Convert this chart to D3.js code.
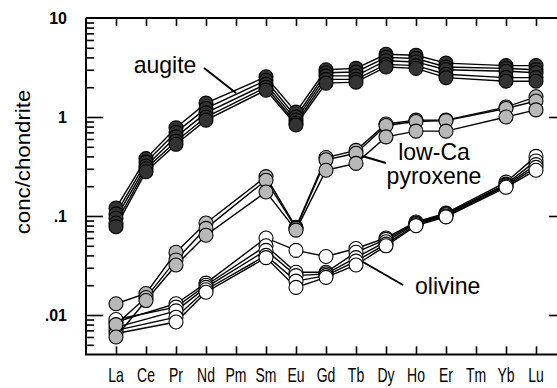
<!DOCTYPE html>
<html>
<head>
<meta charset="utf-8">
<script src="https://cdn.jsdelivr.net/npm/d3@7"></script>
<style>
  html, body { margin: 0; padding: 0; background: #fff; }
  svg { display: block; }
  text { font-family: "Liberation Sans", Arial, Helvetica, sans-serif; fill: #000; }
</style>
</head>
<body>
<svg id="chart" width="557" height="388"></svg>
<script>
// ---------- data ----------
const elements = ["La","Ce","Pr","Nd","Pm","Sm","Eu","Gd","Tb","Dy","Ho","Er","Tm","Yb","Lu"];
const yTickValues = [10, 1, 0.1, 0.01];
const yTickLabels = ["10", "1", ".1", ".01"];

// order: La Ce Pr Nd Pm Sm Eu Gd Tb Dy Ho Er Tm Yb Lu  (null = not analysed)
const augite1 = [0.120, 0.38, 0.78, 1.38, null, 2.55, 1.12, 3.00, 3.10, 4.30, 4.20, 3.50, null, 3.30, 3.30];
const augite2 = [0.105, 0.35, 0.70, 1.22, null, 2.35, 1.00, 2.80, 2.85, 4.00, 3.90, 3.20, null, 3.10, 3.00];
const augite3 = [0.095, 0.32, 0.63, 1.10, null, 2.15, 0.93, 2.60, 2.60, 3.70, 3.60, 3.00, null, 2.90, 2.80];
const augite4 = [0.085, 0.30, 0.57, 1.00, null, 2.00, 0.87, 2.40, 2.40, 3.40, 3.30, 2.70, null, 2.50, 2.50];
const augite5 = [0.078, 0.28, 0.53, 0.93, null, 1.87, 0.83, 2.20, 2.25, 3.20, 3.10, 2.50, null, 2.30, 2.30];

const lowCa1 = [0.0130, 0.0165, 0.043, 0.085, null, 0.25, 0.077, 0.39, 0.46, 0.85, 0.93, 0.93, null, 1.26, 1.60];
const lowCa2 = [0.0080, 0.0150, 0.036, 0.075, null, 0.23, 0.075, 0.37, 0.43, 0.82, 0.90, 0.92, null, 1.22, 1.45];
const lowCa3 = [0.0060, 0.0140, 0.032, 0.064, null, 0.175, 0.072, 0.29, 0.34, 0.63, 0.72, 0.72, null, 1.00, 1.18];

const olivine1 = [0.0085, null, 0.0130, 0.021, null, 0.060, 0.045, 0.039, 0.047, 0.060, 0.087, 0.107, null, 0.220, 0.40];
const olivine2 = [0.0090, null, 0.0120, 0.020, null, 0.050, 0.027, 0.027, 0.043, 0.058, 0.085, 0.105, null, 0.210, 0.36];
const olivine3 = [0.0075, null, 0.0110, 0.019, null, 0.045, 0.025, 0.026, 0.038, 0.055, 0.084, 0.103, null, 0.205, 0.33];
const olivine4 = [0.0070, null, 0.0095, 0.018, null, 0.040, 0.022, 0.025, 0.035, 0.052, 0.082, 0.100, null, 0.200, 0.31];
const olivine5 = [0.0065, null, 0.0085, 0.017, null, 0.038, 0.019, 0.024, 0.032, 0.050, 0.080, 0.098, null, 0.195, 0.29];

const groups = [
  { name: "olivine", fill: "#ffffff", series: [olivine1, olivine2, olivine3, olivine4, olivine5] },
  { name: "low-Ca pyroxene", fill: "#b8b8b8", series: [lowCa1, lowCa2, lowCa3] },
  { name: "augite", fill: "#333333", series: [augite1, augite2, augite3, augite4, augite5] }
];

// ---------- layout ----------
const svg = d3.select("#chart");
const L = 86, R = 558, T = 18, B = 354.4;

const x = d3.scalePoint().domain(elements).range([116, 536]);
const y = d3.scaleLog().domain([0.004, 10]).range([B, T]);

// ---------- axes ----------
const minorVals = [];
[0.001, 0.01, 0.1, 1].forEach(dec => {
  for (let k = 2; k <= 9; k++) {
    const v = dec * k;
    if (v > 0.004 && v < 10) minorVals.push(v);
  }
});

function styleAxis(g) {
  g.select(".domain").remove();
  g.selectAll(".tick line").attr("stroke", "#000").attr("stroke-width", 1.6);
  g.selectAll(".tick text").remove();
}

// left axis (ticks inward)
svg.append("g").attr("transform", `translate(${L},0)`)
  .call(d3.axisRight(y).tickValues(minorVals).tickSize(8).tickFormat(""))
  .call(styleAxis);
svg.append("g").attr("transform", `translate(${L},0)`)
  .call(d3.axisRight(y).tickValues([1, 0.1, 0.01]).tickSize(17).tickFormat(""))
  .call(styleAxis);
// right axis (ticks inward)
svg.append("g").attr("transform", `translate(${R},0)`)
  .call(d3.axisLeft(y).tickValues([1, 0.1, 0.01]).tickSize(9).tickFormat(""))
  .call(styleAxis);
// top & bottom axes (ticks inward)
svg.append("g").attr("transform", `translate(0,${T})`)
  .call(d3.axisBottom(x).tickSize(8).tickFormat(""))
  .call(styleAxis);
svg.append("g").attr("transform", `translate(0,${B})`)
  .call(d3.axisTop(x).tickSize(8).tickFormat(""))
  .call(styleAxis);

// frame
svg.append("path")
  .attr("d", `M${L},${T}H${R}M${L},${T}V${B}H${R}`)
  .attr("fill", "none").attr("stroke", "#000").attr("stroke-width", 2);

// y tick labels
svg.selectAll(".ylab").data(yTickValues).enter().append("text")
  .attr("class", "ylab")
  .attr("x", 67).attr("y", d => y(d) + 6)
  .attr("text-anchor", "end")
  .style("font-size", "16px").style("font-weight", "bold")
  .text((d, i) => yTickLabels[i]);

// x tick labels (narrow)
svg.selectAll(".xlab").data(elements).enter().append("text")
  .attr("class", "xlab")
  .attr("transform", d => `translate(${x(d)},382) scale(0.7,1)`)
  .attr("text-anchor", "middle")
  .style("font-size", "20px")
  .text(d => d);

// y title
svg.append("text")
  .attr("transform", "translate(30,162) rotate(-90) scale(1.06,1)")
  .attr("text-anchor", "middle")
  .style("font-size", "21px")
  .text("conc/chondrite");

// ---------- series ----------
const line = d3.line().x(d => x(d.el)).y(d => y(d.v));

groups.forEach(grp => {
  const g = svg.append("g");
  grp.series.forEach(s => {
    const pts = elements.map((el, i) => ({ el, v: s[i] })).filter(d => d.v != null);
    g.append("path").datum(pts)
      .attr("d", line)
      .attr("fill", "none").attr("stroke", "#000").attr("stroke-width", 1.4);
  });
  grp.series.forEach(s => {
    const pts = elements.map((el, i) => ({ el, v: s[i] })).filter(d => d.v != null);
    g.selectAll(null).data(pts).enter().append("circle")
      .attr("cx", d => x(d.el)).attr("cy", d => y(d.v)).attr("r", 7)
      .attr("fill", grp.fill).attr("stroke", "#000").attr("stroke-width", 1.1);
  });
});

// ---------- annotations ----------
function label(txt, xx, yy, anchor) {
  svg.append("text")
    .attr("transform", `translate(${xx},${yy}) scale(0.96,1)`)
    .attr("text-anchor", anchor)
    .style("font-size", "24px")
    .text(txt);
}
function leader(x1, y1, x2, y2) {
  svg.append("line").attr("x1", x1).attr("y1", y1).attr("x2", x2).attr("y2", y2)
    .attr("stroke", "#000").attr("stroke-width", 2);
}
label("augite", 165, 73, "middle");
leader(204, 68, 236, 93);
label("low-Ca", 434, 160, "middle");
label("pyroxene", 434, 184, "middle");
leader(362, 156, 386, 163);
label("olivine", 415, 294, "start");
leader(363, 262, 403, 285);
</script>
</body>
</html>
